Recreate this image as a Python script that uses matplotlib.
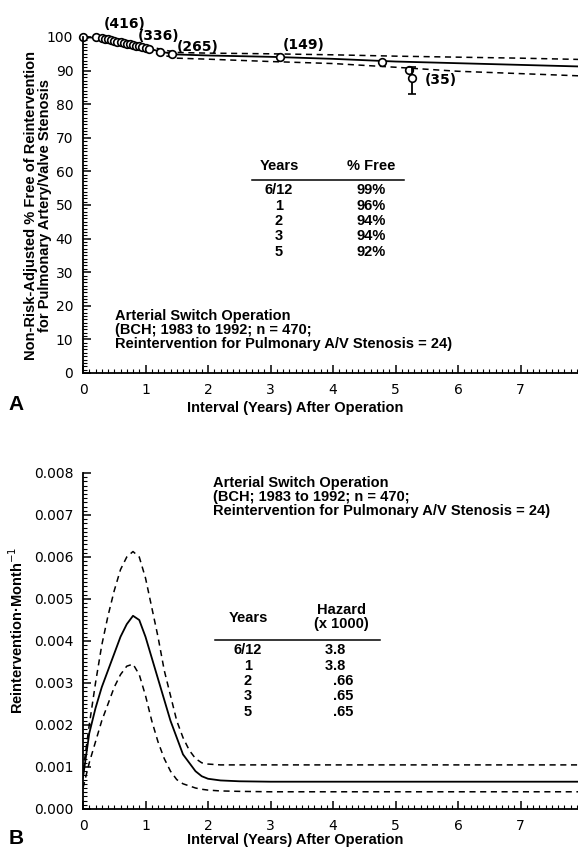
import matplotlib
matplotlib.use("Agg")
import matplotlib.pyplot as plt
from matplotlib.ticker import MultipleLocator

# ---- Panel A: freedom from reintervention (%) ----
surv_t = [0, 0.25, 0.5, 0.75, 1.0, 1.25, 1.5, 2, 3, 4, 5, 6, 7, 8]
surv_mid = [100, 99.7, 98.9, 97.9, 96.8, 95.6, 94.8, 94.5, 94.1, 93.5, 92.7, 92.2, 91.7, 91.2]
surv_hi = [100, 99.9, 99.5, 98.7, 97.6, 96.3, 95.4, 95.2, 95.0, 94.7, 94.3, 94.0, 93.7, 93.3]
surv_lo = [100, 99.4, 98.3, 97.1, 95.9, 94.7, 93.7, 93.4, 92.7, 92.1, 91.0, 89.8, 89.1, 88.4]

event_t = [0, 0.2, 0.3, 0.35, 0.4, 0.45, 0.5, 0.55, 0.6, 0.65, 0.7, 0.75, 0.8,
           0.85, 0.9, 0.95, 1.0, 1.05, 1.23, 1.42, 3.15, 4.78, 5.22]
event_pct = [100, 100, 99.7, 99.5, 99.3, 99.1, 98.9, 98.6, 98.4, 98.2, 98.0, 97.8, 97.6,
             97.4, 97.2, 97.1, 96.8, 96.5, 95.4, 94.9, 94.1, 92.7, 90.3]

late_t = [5.27]
late_pct = [87.9]
late_err_lo = [4.9]
late_err_hi = [3.3]

n_labels = ["(416)", "(336)", "(265)", "(149)", "(35)"]
n_label_t = [0.33, 0.88, 1.5, 3.2, 5.47]
n_label_pct = [103.8, 100.4, 96.9, 97.5, 87.3]

table_a_years = ["6/12", "1", "2", "3", "5"]
table_a_free = ["99%", "96%", "94%", "94%", "92%"]

# ---- Panel B: hazard of reintervention ----
haz_t = [0, 0.1, 0.2, 0.3, 0.4, 0.5, 0.6, 0.7, 0.8, 0.9, 1.0, 1.1, 1.2, 1.3, 1.4,
         1.5, 1.6, 1.7, 1.8, 1.9, 2.0, 2.2, 2.5, 3, 8]
haz_mid = [0.00075, 0.0018, 0.0024, 0.0029, 0.0033, 0.0037, 0.0041, 0.0044, 0.0046, 0.0045,
           0.0041, 0.0036, 0.0031, 0.0026, 0.0021, 0.0017, 0.0013, 0.0011, 0.0009, 0.00078,
           0.00072, 0.00068, 0.00066, 0.00065, 0.00065]
haz_hi = [0.0009, 0.0020, 0.0030, 0.0039, 0.0046, 0.0052, 0.0057, 0.0060, 0.00613, 0.0060,
          0.0055, 0.0048, 0.0041, 0.0033, 0.0027, 0.0021, 0.0017, 0.0014, 0.0012, 0.0011,
          0.00107, 0.00105, 0.00105, 0.00105, 0.00105]
haz_lo = [0.0005, 0.0011, 0.0016, 0.0021, 0.0025, 0.0029, 0.0032, 0.0034, 0.00345, 0.0032,
          0.0027, 0.0021, 0.0016, 0.0012, 0.0009, 0.0007, 0.0006, 0.00055, 0.0005, 0.00047,
          0.00045, 0.00043, 0.00042, 0.00041, 0.00041]

table_b_years = ["6/12", "1", "2", "3", "5"]
table_b_hazard = ["3.8", "3.8", ".66", ".65", ".65"]

study_text = ("Arterial Switch Operation\n(BCH; 1983 to 1992; n = 470;\n"
              "Reintervention for Pulmonary A/V Stenosis = 24)")

W, H = 578, 848
fig = plt.figure(figsize=(W / 100, H / 100), dpi=100)
BOLD = dict(family="Liberation Sans", fontweight="bold")
FS = 10.5


def px(x, y):
    """pixel coords (from top-left) -> figure fraction"""
    return x / W, 1 - y / H


def style_axis(ax):
    for s in ("top", "right"):
        ax.spines[s].set_visible(False)
    ax.spines["left"].set_linewidth(1.3)
    ax.spines["bottom"].set_linewidth(1.3)
    ax.tick_params(which="major", direction="in", length=6, width=1.1, labelsize=10, pad=7)
    ax.tick_params(which="minor", direction="in", length=3, width=0.8)
    ax.xaxis.set_major_locator(MultipleLocator(1))
    ax.xaxis.set_minor_locator(MultipleLocator(0.1))
    ax.set_xlim(0, 8)
    ax.patch.set_visible(False)


# ---------------- Panel A ----------------
axA = fig.add_axes([83 / W, 1 - 373 / H, 500 / W, 336 / H])
style_axis(axA)
axA.set_ylim(0, 100)
axA.yaxis.set_major_locator(MultipleLocator(10))
axA.yaxis.set_minor_locator(MultipleLocator(1))

axA.plot(surv_t, surv_mid, color="black", lw=1.3, clip_on=False)
axA.plot(surv_t, surv_hi, color="black", lw=1.1, ls=(0, (4, 3)), clip_on=False)
axA.plot(surv_t, surv_lo, color="black", lw=1.1, ls=(0, (4, 3)), clip_on=False)
axA.plot(event_t, event_pct, ls="none", marker="o", ms=5.5, mfc="white", mec="black",
         mew=1.2, clip_on=False)
axA.errorbar(late_t, late_pct, yerr=[late_err_lo, late_err_hi], fmt="o", ms=5.5, mfc="white",
             mec="black", mew=1.2, ecolor="black", elinewidth=1.3, capsize=3, capthick=1.3)
for lab, t, p in zip(n_labels, n_label_t, n_label_pct):
    axA.text(t, p, lab, ha="left", va="center", fontsize=10, fontweight="bold", clip_on=False)

fig.text(*px(115, 330), study_text, ha="left", va="center", fontsize=FS,
         linespacing=1.0, **BOLD)
fig.text(*px(279, 166), "Years", ha="center", va="center", fontsize=FS, **BOLD)
fig.text(*px(371, 166), "% Free", ha="center", va="center", fontsize=FS, **BOLD)
fig.add_artist(plt.Line2D([252 / W, 404 / W], [1 - 180 / H] * 2, color="black", lw=1.1))
for i, (yr, fr) in enumerate(zip(table_a_years, table_a_free)):
    yy = 190 + i * 15.5
    fig.text(*px(279, yy), yr, ha="center", va="center", fontsize=FS, **BOLD)
    fig.text(*px(371, yy), fr, ha="center", va="center", fontsize=FS, **BOLD)

axA.set_ylabel("Non-Risk-Adjusted % Free of Reintervention\nfor Pulmonary Artery/Valve Stenosis",
               fontsize=FS, linespacing=1.0, **BOLD)
axA.yaxis.set_label_coords(-31 / 500, 0.5)
axA.set_xlabel("Interval (Years) After Operation", fontsize=FS, **BOLD)
axA.xaxis.set_label_coords(212 / 500, -28 / 336)
fig.text(*px(16, 405), "A", ha="center", va="center", fontsize=15, **BOLD)

# ---------------- Panel B ----------------
axB = fig.add_axes([83 / W, 1 - 809 / H, 500 / W, 336 / H])
style_axis(axB)
axB.set_ylim(0, 0.008)
axB.yaxis.set_major_locator(MultipleLocator(0.001))
axB.yaxis.set_minor_locator(MultipleLocator(0.0001))
axB.yaxis.set_major_formatter(lambda v, pos: f"{v:.3f}")

axB.plot(haz_t, haz_mid, color="black", lw=1.3)
axB.plot(haz_t, haz_hi, color="black", lw=1.1, ls=(0, (4, 3)))
axB.plot(haz_t, haz_lo, color="black", lw=1.1, ls=(0, (4, 3)))

fig.text(*px(213, 497), study_text, ha="left", va="center", fontsize=FS,
         linespacing=1.0, **BOLD)
fig.text(*px(248, 618), "Years", ha="center", va="center", fontsize=FS, **BOLD)
fig.text(*px(341, 617), "Hazard\n(x 1000)", ha="center", va="center", fontsize=FS,
         linespacing=1.0, **BOLD)
fig.add_artist(plt.Line2D([215 / W, 380 / W], [1 - 640 / H] * 2, color="black", lw=1.1))
for i, (yr, hz) in enumerate(zip(table_b_years, table_b_hazard)):
    yy = 650 + i * 15.5
    fig.text(*px(248, yy), yr, ha="center", va="center", fontsize=FS, **BOLD)
    whole, frac = hz.split(".")
    fig.text(*px(333, yy), whole, ha="right", va="center", fontsize=FS, **BOLD)
    fig.text(*px(333, yy), "." + frac, ha="left", va="center", fontsize=FS, **BOLD)

axB.set_ylabel("Reintervention\u00b7Month$^{-1}$", fontsize=FS, **BOLD)
axB.yaxis.set_label_coords(-57 / 500, 0.533)
axB.set_xlabel("Interval (Years) After Operation", fontsize=FS, **BOLD)
axB.xaxis.set_label_coords(212 / 500, -24 / 336)
fig.text(*px(16, 838), "B", ha="center", va="center", fontsize=15, **BOLD)

fig.savefig("out.png", dpi=100)
